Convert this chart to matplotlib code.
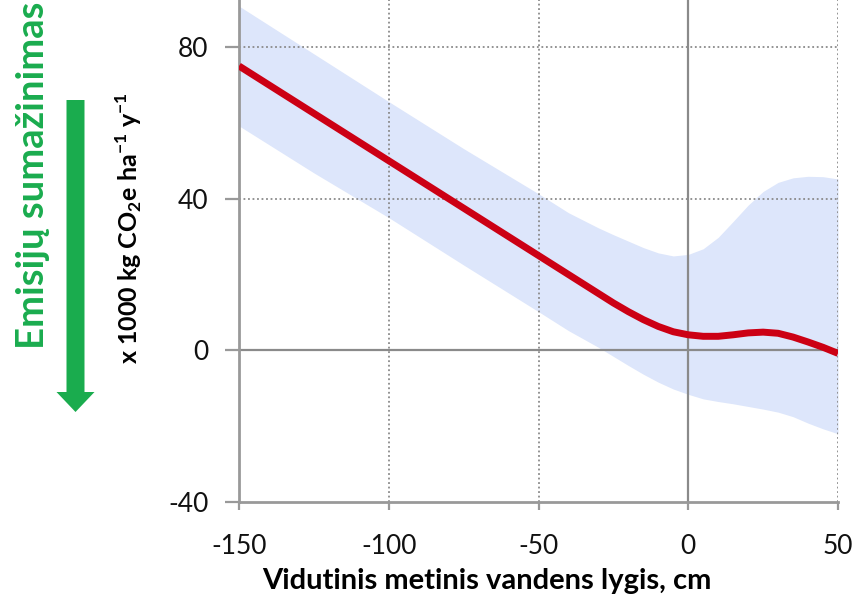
import matplotlib

matplotlib.use("Agg")
import matplotlib.pyplot as plt
from matplotlib.patches import FancyArrow

# water level (cm) and emission estimate with its uncertainty band
level = [-150, -125, -100, -75, -50, -40, -30, -25, -20, -15, -10, -5, 0, 5, 10, 15, 20, 25, 30, 35, 40, 45, 50]
mean = [75, 62.5, 50, 37.5, 25, 20, 15, 12.5, 10.2, 8.1, 6.3, 4.9, 4.1, 3.7, 3.7, 4.1, 4.6, 4.8, 4.5, 3.5, 2.2, 0.8, -0.8]
upper = [90.8, 78.2, 65.6, 53.2, 41.3, 36.3, 32.3, 30.5, 28.8, 27.1, 25.7, 24.9, 25.3, 26.8, 29.8, 34, 38.3, 41.9, 44.3, 45.5, 45.9, 45.8, 45.2]
lower = [59.2, 46.8, 35, 22.5, 10.2, 5.2, 0.8, -1.6, -4, -6.3, -8.4, -10.2, -11.6, -12.8, -13.5, -14.1, -14.8, -15.5, -16.3, -17.5, -19.2, -20.7, -22]

xticks = [-150, -100, -50, 0, 50]
yticks = [-40, 0, 40, 80]

plt.rcParams["font.family"] = ["Lato", "DejaVu Sans"]
plt.rcParams["axes.unicode_minus"] = False
plt.rcParams["mathtext.fontset"] = "custom"
plt.rcParams["mathtext.rm"] = "Lato"
plt.rcParams["mathtext.bf"] = "Lato:bold"

fig = plt.figure(figsize=(8.56, 5.95), dpi=100)
ax = fig.add_axes([239 / 856, 93 / 595, 599 / 856, 502 / 595])

ax.fill_between(level, lower, upper, color="#dde6fb", lw=0, zorder=0.5)
ax.plot(level, mean, color="#cc0014", lw=5, solid_capstyle="butt", zorder=3)

grid = "#8a8a8a"
for y in (80, 40):
    ax.axhline(y, color=grid, lw=1.3, ls=(0, (1, 1.5)), zorder=1)
for x in (-100, -50, 50):
    ax.axvline(x, color=grid, lw=1.3, ls=(0, (1, 1.5)), zorder=1)
ax.axhline(0, color=grid, lw=1.6, zorder=1)
ax.axvline(0, color=grid, lw=1.6, zorder=1)

ax.set_xlim(-150, 50)
ax.set_ylim(-40, 92.4)
ax.set_xticks(xticks)
ax.set_yticks(yticks)
for s in ("top", "right"):
    ax.spines[s].set_visible(False)
for s in ("left", "bottom"):
    ax.spines[s].set_color("#999999")
    ax.spines[s].set_linewidth(2)
ax.tick_params(axis="y", length=10, width=1.6, color="#999999", labelsize=19, pad=12)
ax.tick_params(axis="x", length=6, width=1.6, color="#999999", labelsize=19, pad=17)
ax.tick_params(labelcolor="#111111")

fig.text(487 / 856, 1 - 581 / 595, "Vidutinis metinis vandens lygis, cm",
         ha="center", va="center", fontsize=21, fontweight="bold")
fig.text(129 / 856, 1 - 228 / 595,
         r"x 1000 kg CO$_\mathbf{2}$e ha$^\mathbf{-1}$ y$^\mathbf{-1}$",
         rotation=90, ha="center", va="center", fontsize=18, fontweight="bold")
fig.text(33 / 856, 1 - 175 / 595, "Emisijų sumažinimas", rotation=90,
         ha="center", va="center", fontsize=27.5, fontweight="bold", color="#1aac4e")

fig.patches.append(FancyArrow(0.755, 4.95, 0, -3.12, width=0.18, head_width=0.38,
                              head_length=0.2, length_includes_head=True,
                              color="#1aac4e", lw=0, transform=fig.dpi_scale_trans))

fig.savefig("out.png", dpi=100)
